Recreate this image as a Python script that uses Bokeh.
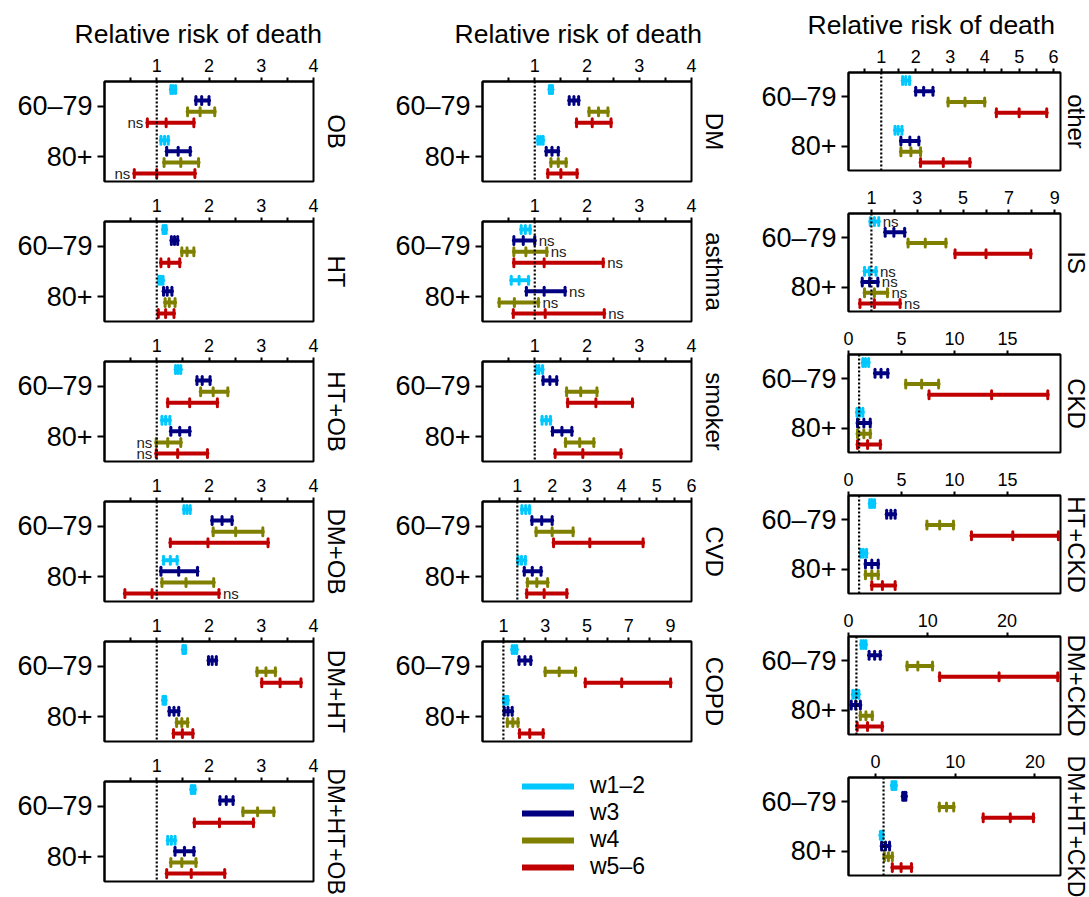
import math
from bokeh.plotting import figure
from bokeh.models import (Range1d, LinearAxis, FixedTicker, Span, Title, Legend,
                          LegendItem, ColumnDataSource)
from bokeh.layouts import column, row
from bokeh.embed import file_html
from bokeh.resources import INLINE

FONT = "Liberation Sans"
WAVES = ["w1–2", "w3", "w4", "w5–6"]
AGES = ["60–79", "80+"]
COLORS = ["#00C8FF", "#000080", "#808000", "#C00000"]

# order of every list: 60–79 (w1–2, w3, w4, w5–6), then 80+ (w1–2, w3, w4, w5–6)
OB_est = [1.31, 1.86, 1.83, 1.18, 1.15, 1.41, 1.46, 1.00]
OB_lo = [1.27, 1.75, 1.59, 0.82, 1.08, 1.19, 1.14, 0.57]
OB_hi = [1.36, 2.00, 2.11, 1.71, 1.22, 1.64, 1.80, 1.73]
OB_ns = ["", "", "", "L", "", "", "", "L"]

HT_est = [1.15, 1.34, 1.58, 1.23, 1.08, 1.20, 1.24, 1.17]
HT_lo = [1.12, 1.28, 1.48, 1.08, 1.04, 1.13, 1.16, 1.03]
HT_hi = [1.18, 1.40, 1.71, 1.44, 1.12, 1.29, 1.35, 1.33]
HT_ns = ["", "", "", "", "", "", "", ""]

HTOB_est = [1.41, 1.87, 2.08, 1.63, 1.17, 1.44, 1.21, 1.40]
HTOB_lo = [1.36, 1.77, 1.84, 1.21, 1.10, 1.27, 0.99, 0.99]
HTOB_hi = [1.46, 2.02, 2.36, 2.16, 1.25, 1.63, 1.46, 1.97]
HTOB_ns = ["", "", "", "", "", "", "L", "L"]

DMOB_est = [1.58, 2.25, 2.51, 1.98, 1.26, 1.42, 1.56, 0.91]
DMOB_lo = [1.52, 2.06, 2.08, 1.26, 1.13, 1.08, 1.10, 0.39]
DMOB_hi = [1.64, 2.44, 3.03, 3.13, 1.39, 1.78, 2.09, 2.19]
DMOB_ns = ["", "", "", "", "", "", "", "R"]

DMHT_est = [1.52, 2.06, 3.09, 3.36, 1.15, 1.33, 1.48, 1.49]
DMHT_lo = [1.50, 1.99, 2.92, 3.01, 1.12, 1.24, 1.38, 1.32]
DMHT_hi = [1.55, 2.14, 3.27, 3.76, 1.17, 1.42, 1.59, 1.69]
DMHT_ns = ["", "", "", "", "", "", "", ""]

DMHTOB_est = [1.69, 2.33, 2.93, 2.20, 1.28, 1.53, 1.48, 1.66]
DMHTOB_lo = [1.66, 2.21, 2.65, 1.72, 1.21, 1.35, 1.27, 1.19]
DMHTOB_hi = [1.73, 2.46, 3.24, 2.85, 1.35, 1.71, 1.75, 2.30]
DMHTOB_ns = ["", "", "", "", "", "", "", ""]

DM_est = [1.31, 1.75, 2.22, 2.10, 1.11, 1.33, 1.45, 1.50]
DM_lo = [1.28, 1.66, 2.04, 1.80, 1.06, 1.22, 1.31, 1.25]
DM_hi = [1.34, 1.84, 2.40, 2.46, 1.16, 1.45, 1.60, 1.81]
DM_ns = ["", "", "", "", "", "", "", ""]

ASTHMA_est = [0.82, 0.78, 0.83, 1.18, 0.70, 1.18, 0.61, 1.20]
ASTHMA_lo = [0.74, 0.60, 0.60, 0.60, 0.55, 0.84, 0.32, 0.59]
ASTHMA_hi = [0.91, 1.00, 1.23, 2.31, 0.88, 1.58, 1.07, 2.33]
ASTHMA_ns = ["", "R", "R", "R", "", "R", "R", "R"]

SMOKER_est = [1.08, 1.29, 1.88, 2.17, 1.22, 1.52, 1.86, 1.92]
SMOKER_lo = [1.03, 1.16, 1.61, 1.63, 1.14, 1.34, 1.59, 1.39]
SMOKER_hi = [1.15, 1.42, 2.19, 2.87, 1.30, 1.71, 2.13, 2.65]
SMOKER_ns = ["", "", "", "", "", "", "", ""]

CVD_est = [1.24, 1.70, 2.00, 3.08, 1.12, 1.43, 1.56, 1.77]
CVD_lo = [1.13, 1.42, 1.54, 2.04, 1.02, 1.20, 1.29, 1.27]
CVD_hi = [1.35, 2.00, 2.60, 4.61, 1.23, 1.68, 1.87, 2.42]
CVD_ns = ["", "", "", "", "", "", "", ""]

COPD_est = [1.53, 2.03, 3.67, 6.66, 1.12, 1.22, 1.45, 2.26]
COPD_lo = [1.42, 1.75, 3.00, 4.92, 1.02, 1.04, 1.19, 1.77]
COPD_hi = [1.64, 2.31, 4.45, 9.00, 1.21, 1.42, 1.70, 2.90]
COPD_ns = ["", "", "", "", "", "", "", ""]

OTHER_est = [1.71, 2.23, 3.43, 5.00, 1.49, 1.83, 1.86, 2.80]
OTHER_lo = [1.62, 2.00, 2.94, 4.34, 1.40, 1.57, 1.57, 2.14]
OTHER_hi = [1.82, 2.50, 4.00, 5.80, 1.60, 2.09, 2.14, 3.57]
OTHER_ns = ["", "", "", "", "", "", "", ""]

IS_est = [1.13, 1.98, 3.35, 6.00, 0.91, 0.92, 1.13, 1.13]
IS_lo = [0.95, 1.60, 2.60, 4.65, 0.70, 0.60, 0.70, 0.50]
IS_hi = [1.32, 2.45, 4.25, 7.95, 1.20, 1.28, 1.70, 2.25]
IS_ns = ["R", "", "", "", "R", "R", "R", "R"]

CKD_est = [1.60, 3.07, 6.90, 13.5, 1.05, 1.45, 1.45, 1.80]
CKD_lo = [1.35, 2.50, 5.40, 7.60, 0.80, 0.85, 0.85, 0.85]
CKD_hi = [1.90, 3.70, 8.50, 18.8, 1.35, 2.05, 2.05, 3.00]
CKD_ns = ["", "", "", "", "", "", "", ""]

HTCKD_est = [2.20, 4.00, 8.60, 15.5, 1.40, 2.20, 2.20, 3.20]
HTCKD_lo = [2.00, 3.60, 7.40, 11.6, 1.15, 1.60, 1.60, 2.20]
HTCKD_hi = [2.45, 4.40, 9.90, 19.8, 1.70, 2.80, 2.80, 4.40]
HTCKD_ns = ["", "", "", "", "", "", "", ""]

DMCKD_est = [1.90, 3.30, 8.75, 19.0, 0.90, 0.90, 2.20, 2.40]
DMCKD_lo = [1.60, 2.60, 7.40, 11.5, 0.55, 0.35, 1.50, 1.10]
DMCKD_hi = [2.20, 4.00, 10.6, 26.4, 1.30, 1.50, 3.00, 4.25]
DMCKD_ns = ["", "", "", "", "", "", "", ""]

DMHTCKD_est = [2.30, 3.60, 8.90, 16.9, 0.75, 1.25, 1.60, 3.20]
DMHTCKD_lo = [2.05, 3.40, 8.00, 13.5, 0.60, 0.75, 1.10, 2.10]
DMHTCKD_hi = [2.55, 3.80, 9.80, 19.8, 0.90, 1.75, 2.10, 4.50]
DMHTCKD_ns = ["", "", "", "", "", "", "", ""]

# x-axis settings per panel
TICKS_4 = [1, 2, 3, 4]
MINOR_4 = [0.5, 1.5, 2.5, 3.5]
TICKS_6 = [1, 2, 3, 4, 5, 6]
MINOR_6 = [0.5, 1.5, 2.5, 3.5, 4.5, 5.5]
TICKS_9 = [1, 3, 5, 7, 9]
MINOR_9 = [2, 4, 6, 8]
TICKS_15 = [0, 5, 10, 15]
TICKS_20 = [0, 10, 20]

ROW_STEP = 10
GROUP_GAP = 46
Y_TOP = -7.3
Y_BOTTOM = 83.3


def make_panel(label, est, lo, hi, ns, xr, majors, minors, geom, top_b, bot_b,
               title_off=None, label_size="24px"):
    lb, fw, rb, fh, lab_standoff = geom
    p = figure(frame_width=fw, frame_height=fh, x_range=Range1d(*xr),
               y_range=Range1d(Y_BOTTOM, Y_TOP), x_axis_location="above",
               toolbar_location=None, output_backend="svg",
               min_border_left=lb, min_border_right=rb,
               min_border_top=top_b, min_border_bottom=bot_b)
    p.xgrid.visible = False
    p.ygrid.visible = False
    p.outline_line_color = "black"
    p.outline_line_width = 2
    p.background_fill_color = "white"
    p.border_fill_color = "white"

    xa = p.xaxis[0]
    xa.ticker = FixedTicker(ticks=majors, minor_ticks=minors)
    xa.axis_line_width = 2
    xa.major_tick_line_width = 2
    xa.minor_tick_line_width = 2
    xa.major_tick_out = 4
    xa.major_tick_in = 0
    xa.minor_tick_out = 4
    xa.minor_tick_in = 0
    xa.major_label_standoff = 6
    xa.major_label_text_font = FONT
    xa.major_label_text_font_size = "18px"
    xa.major_label_text_color = "black"

    ya = p.yaxis[0]
    centers = [1.5 * ROW_STEP, GROUP_GAP + 1.5 * ROW_STEP]
    ya.ticker = FixedTicker(ticks=centers, minor_ticks=[])
    ya.major_label_overrides = {int(centers[0]): AGES[0], int(centers[1]): AGES[1]}
    ya.axis_line_width = 2
    ya.major_tick_line_width = 2
    ya.major_tick_out = 7
    ya.major_tick_in = 0
    ya.major_label_standoff = 5
    ya.major_label_text_font = FONT
    ya.major_label_text_font_size = "27px"
    ya.major_label_text_color = "black"

    ra = LinearAxis(ticker=FixedTicker(ticks=[]), axis_line_color=None,
                    major_tick_out=0, major_tick_in=0, minor_tick_out=0, minor_tick_in=0,
                    major_label_standoff=0, axis_label=label, axis_label_standoff=lab_standoff,
                    axis_label_text_font=FONT, axis_label_text_font_size=label_size,
                    axis_label_text_font_style="normal", axis_label_text_color="black")
    p.add_layout(ra, "right")

    if title_off is not None:
        t = Title(text="Relative risk of death", text_font=FONT, text_font_size="26.5px",
                  text_font_style="normal", text_color="black", align="left",
                  offset=title_off, standoff=14)
        p.add_layout(t, "above")

    p.add_layout(Span(location=1, dimension="height", line_color="black",
                      line_dash="2 2", line_width=2.2))

    ys, cols, lo_l, est_l, hi_l = [], [], [], [], []
    for i in range(8):
        g, w = divmod(i, 4)
        ys.append(g * GROUP_GAP + w * ROW_STEP)
        cols.append(COLORS[w])
        lo_l.append(lo[i]); est_l.append(est[i]); hi_l.append(hi[i])
    src = ColumnDataSource(dict(y=ys, c=cols, lo=lo_l, est=est_l, hi=hi_l))
    p.segment(x0="lo", y0="y", x1="hi", y1="y", line_color="c", line_width=4,
              line_cap="round", source=src)
    for key in ("lo", "est", "hi"):
        p.scatter(x=key, y="y", marker="dash", angle=math.pi / 2, size=8,
                  line_color="c", line_width=3, line_cap="round", source=src)

    lx, ly, rx, ry = [], [], [], []
    for i in range(8):
        if ns[i] == "L":
            lx.append(lo_l[i]); ly.append(ys[i])
        elif ns[i] == "R":
            rx.append(hi_l[i]); ry.append(ys[i])
    if lx:
        p.text(x=lx, y=ly, text=["ns"] * len(lx), text_align="right", text_baseline="middle",
               x_offset=-4, text_font_size="15px", text_color="#222222",
               text_font={"value": FONT})
    if rx:
        p.text(x=rx, y=ry, text=["ns"] * len(rx), text_align="left", text_baseline="middle",
               x_offset=4, text_font_size="15px", text_color="#222222",
               text_font={"value": FONT})
    return p


G1 = (104, 209, 50, 100, 9)
G2 = (119, 209, 50, 100, 9)
G3 = (107, 212, 29, 98, 2)

col1 = column(
    make_panel("OB", OB_est, OB_lo, OB_hi, OB_ns, (0, 4), TICKS_4, MINOR_4, G1, 81, 2, title_off=-30),
    make_panel("HT", HT_est, HT_lo, HT_hi, HT_ns, (0, 4), TICKS_4, MINOR_4, G1, 38, 2),
    make_panel("HT+OB", HTOB_est, HTOB_lo, HTOB_hi, HTOB_ns, (0, 4), TICKS_4, MINOR_4, G1, 38, 2),
    make_panel("DM+OB", DMOB_est, DMOB_lo, DMOB_hi, DMOB_ns, (0, 4), TICKS_4, MINOR_4, G1, 38, 2),
    make_panel("DM+HT", DMHT_est, DMHT_lo, DMHT_hi, DMHT_ns, (0, 4), TICKS_4, MINOR_4, G1, 38, 2),
    make_panel("DM+HT+OB", DMHTOB_est, DMHTOB_lo, DMHTOB_hi, DMHTOB_ns, (0, 4), TICKS_4, MINOR_4,
               G1, 38, 16, label_size="23px"),
    spacing=0)

# legend panel
lg = figure(width=378, height=154, x_range=Range1d(0, 1), y_range=Range1d(0, 1),
            x_axis_type=None, y_axis_type=None, toolbar_location=None,
            output_backend="svg", min_border=0)
lg.outline_line_color = None
items = []
for w in range(4):
    # stub renderer kept outside the visible range; only its legend sample is shown
    r = lg.line(x=[0, 1], y=[-5, -5], line_color=COLORS[w], line_width=6, line_cap="round")
    items.append(LegendItem(label=WAVES[w], renderers=[r]))
leg = Legend(items=items, location=(40, 17), padding=0, margin=0, spacing=0,
             glyph_width=52, glyph_height=22, label_height=22, label_standoff=16,
             label_text_font=FONT, label_text_font_size="23px", label_text_color="black",
             border_line_color=None, background_fill_alpha=0)
lg.add_layout(leg)

col2 = column(
    make_panel("DM", DM_est, DM_lo, DM_hi, DM_ns, (0, 4), TICKS_4, MINOR_4, G2, 81, 2, title_off=-28),
    make_panel("asthma", ASTHMA_est, ASTHMA_lo, ASTHMA_hi, ASTHMA_ns, (0, 4), TICKS_4, MINOR_4, G2, 38, 2),
    make_panel("smoker", SMOKER_est, SMOKER_lo, SMOKER_hi, SMOKER_ns, (0, 4), TICKS_4, MINOR_4, G2, 38, 2),
    make_panel("CVD", CVD_est, CVD_lo, CVD_hi, CVD_ns, (0, 6), TICKS_6, MINOR_6, G2, 38, 2),
    make_panel("COPD", COPD_est, COPD_lo, COPD_hi, COPD_ns, (0, 10), TICKS_9, MINOR_9, G2, 38, 2),
    lg,
    spacing=0)

col3 = column(
    make_panel("other", OTHER_est, OTHER_lo, OTHER_hi, OTHER_ns, (0.05, 6.2), TICKS_6, MINOR_6, G3, 70, 2, title_off=-41),
    make_panel("IS", IS_est, IS_lo, IS_hi, IS_ns, (0, 9.25), TICKS_9, MINOR_9, G3, 41, 2),
    make_panel("CKD", CKD_est, CKD_lo, CKD_hi, CKD_ns, (0, 20), TICKS_15, [], G3, 41, 2),
    make_panel("HT+CKD", HTCKD_est, HTCKD_lo, HTCKD_hi, HTCKD_ns, (0, 20), TICKS_15, [], G3, 41, 2),
    make_panel("DM+CKD", DMCKD_est, DMCKD_lo, DMCKD_hi, DMCKD_ns, (0, 26.75), TICKS_20, [], G3, 41, 2),
    make_panel("DM+HT+CKD", DMHTCKD_est, DMHTCKD_lo, DMHTCKD_hi, DMHTCKD_ns, (-3.4, 23.2), TICKS_20, [],
               G3, 41, 24, label_size="23px"),
    spacing=0)

layout = row(col1, col2, col3, spacing=0)

with open("out.html", "w") as f:
    f.write(file_html(layout, INLINE, "Relative risk of death"))
